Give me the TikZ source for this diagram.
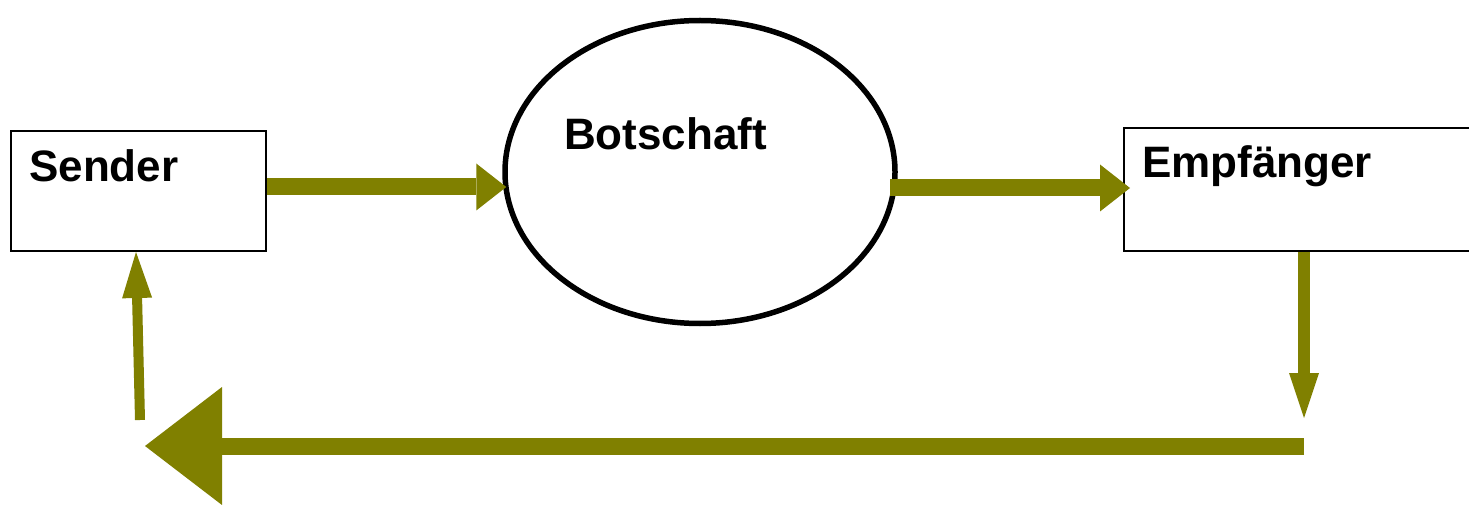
\documentclass[tikz,border=0pt]{standalone}
\usepackage{fontspec}
\setmainfont{Liberation Sans}
\usetikzlibrary{arrows.meta,shapes.geometric,calc}
\definecolor{olivearrow}{HTML}{808000}
\tikzset{
  box/.style={draw=black, line width=2pt, fill=white, inner sep=0pt},
  lbl/.style={font=\fontsize{44}{50}\selectfont\bfseries, inner sep=0pt, anchor=base west},
  fat/.style={draw=olivearrow, line width=17pt, -{Triangle[length=30pt,width=47pt,line width=0pt]}},
  thin/.style={draw=olivearrow, line width=11pt, -{Triangle[length=46pt,width=30pt,line width=0pt]}},
  huge/.style={draw=olivearrow, line width=17pt, -{Triangle[length=77pt,width=118pt,line width=0pt]}}
}
\begin{document}
\begin{tikzpicture}[x=1pt,y=-1pt]
\useasboundingbox (0,0) rectangle (1469,505);
\clip (0,0) rectangle (1469,505);
\fill[white] (0,0) rectangle (1469,505);
\node[box, minimum width=255pt, minimum height=120pt] (sender) at (138.5,191) {};
\node[box, minimum width=360pt, minimum height=123pt] (empf) at (1304,189.5) {};
\node[draw=black, line width=5.5pt, ellipse, minimum width=390pt, minimum height=303pt, inner sep=0pt] (bot) at (700,172) {};
\node[lbl] (tsender) at (29,182) {Sender};
\node[lbl] (tbot) at (564,150) {Botschaft};
\node[lbl] (tempf) at (1142,178) {Empfänger};
\coordinate (c1) at (1304,418);
\coordinate (c2) at (1304,446);
\coordinate (c3) at (145,446);
\coordinate (c4) at (140,420);
\coordinate (c5) at (890,188);
\draw[fat] (sender.east |- 0,187) -- ($(bot.west |- 0,187)+(4,0)$);
\draw[fat] (c5) -- ($(empf.west |- 0,188)+(7,0)$);
\draw[thin, line width=12pt, -{Triangle[length=45pt,width=30pt,line width=0pt]}] (empf.south) -- (c1);
\draw[huge] (c2) -- (c3);
\draw[thin, line width=10pt] (c4) -- (sender.south -| 136,0);
\end{tikzpicture}
\end{document}
